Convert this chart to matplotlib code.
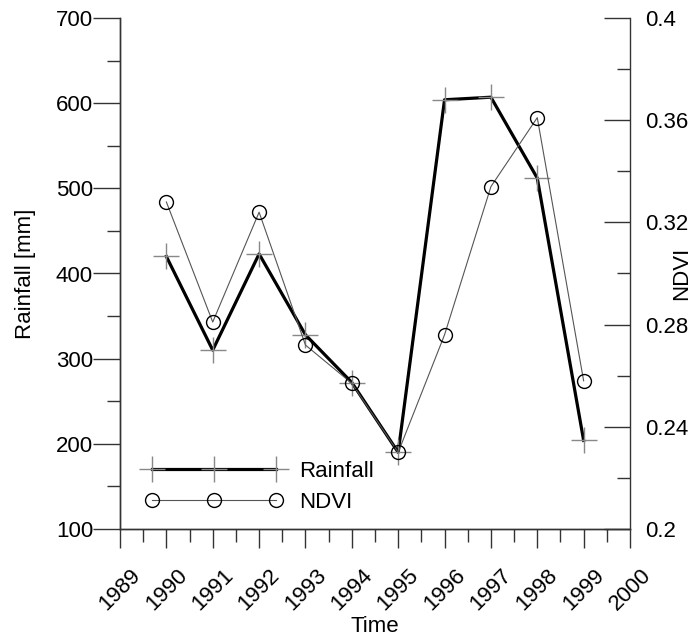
import numpy as np
import matplotlib
matplotlib.use("Agg")
import matplotlib.pyplot as plt
from matplotlib.ticker import MultipleLocator

plt.rcParams['font.family'] = ['Liberation Sans', 'DejaVu Sans']

years = [1990, 1991, 1992, 1993, 1994, 1995, 1996, 1997, 1998, 1999]
rainfall = [420, 310, 423, 328, 272, 190, 604, 607, 512, 204]
ndvi = [0.328, 0.281, 0.324, 0.272, 0.257, 0.230, 0.276, 0.334, 0.361, 0.258]
year_ticks = list(range(1989, 2001))
rain_ticks = [100, 200, 300, 400, 500, 600, 700]
ndvi_ticks = [0.2, 0.24, 0.28, 0.32, 0.36, 0.4]
ndvi_labels = ['0.2', '0.24', '0.28', '0.32', '0.36', '0.4']

fs = 16
axcol = '#333333'

fig = plt.figure(figsize=(6.98, 6.37), dpi=100)
ax = fig.add_axes([120/698, 1-529/637, 510/698, 511/637])
ax2 = ax.twinx()

# rainfall - thick black line, big grey plus markers
l1, = ax.plot(years, rainfall, color='black', lw=2.3, marker='+', ms=19,
              mec='#888888', mew=1.0, label='Rainfall')
# ndvi - thin line, open circles
l2, = ax2.plot(years, ndvi, color='#555555', lw=0.8, marker='o', ms=10,
               mfc='none', mec='black', mew=1.0, label='NDVI')

ax.set_xlim(1989, 2000)
ax.set_ylim(100, 700)

ax.set_xticks(year_ticks)
ax.set_xticklabels([str(y) for y in year_ticks], rotation=45, ha='center')
ax.xaxis.set_minor_locator(MultipleLocator(0.5))
ax.set_yticks(rain_ticks)
ax.yaxis.set_minor_locator(MultipleLocator(50))
ax2.set_yticks(ndvi_ticks)
ax2.set_yticklabels(ndvi_labels)
ax2.yaxis.set_minor_locator(MultipleLocator(0.02))
ax2.set_ylim(0.2, 0.4)

for a in (ax, ax2):
    a.spines['top'].set_visible(False)
    for s in a.spines.values():
        s.set_color(axcol)
        s.set_linewidth(1.0)
ax.spines['right'].set_visible(False)

ax.tick_params(axis='x', which='major', direction='out', length=14, width=1,
               color=axcol, labelsize=fs, pad=12)
ax.tick_params(axis='x', which='minor', direction='out', length=9.4, width=1, color=axcol)
ax.tick_params(axis='y', which='major', direction='out', length=19.4, width=1,
               color=axcol, labelsize=fs, pad=0)
ax.tick_params(axis='y', which='minor', direction='out', length=9.4, width=1, color=axcol)
ax2.tick_params(axis='y', which='major', direction='in', length=18.7, width=1,
                color=axcol, labelsize=fs, pad=11)
ax2.tick_params(axis='y', which='minor', direction='in', length=9.4, width=1, color=axcol)

ax.set_xlabel('Time', fontsize=fs, labelpad=1)
ax.set_ylabel('Rainfall [mm]', fontsize=fs, labelpad=14)
ax2.set_ylabel('NDVI', fontsize=fs)
ax2.yaxis.set_label_coords(1.08, 0.5)

ax2.legend([l1, l2], ['Rainfall', 'NDVI'], loc='center left',
           bbox_to_anchor=(0.049, 0.083), frameon=False, fontsize=fs,
           numpoints=3, handlelength=6.2, handletextpad=0.75,
           labelspacing=0.45, borderpad=0, borderaxespad=0)

fig.savefig('out.png', dpi=100)
